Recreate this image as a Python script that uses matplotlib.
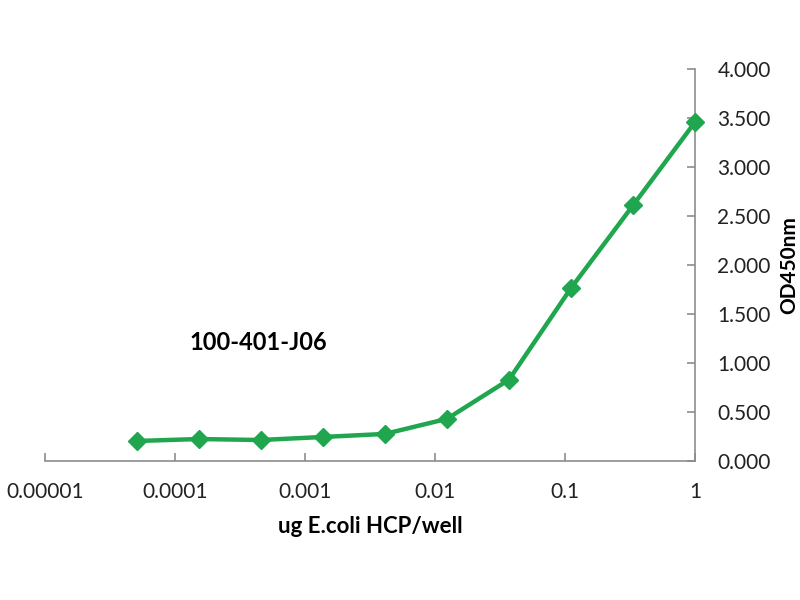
import matplotlib
matplotlib.use("Agg")
import matplotlib.pyplot as plt
from matplotlib.ticker import FixedLocator, FixedFormatter

plt.rcParams['font.family'] = ['Lato', 'DejaVu Sans']

conc = [1.0, 0.3333, 0.1111, 0.03704, 0.01235, 0.004115, 0.001372, 0.000457, 0.0001524, 0.0000508]
od = [3.46, 2.61, 1.765, 0.83, 0.43, 0.276, 0.245, 0.214, 0.224, 0.204]
xticks = [0.00001, 0.0001, 0.001, 0.01, 0.1, 1]
xticklabels = ["0.00001", "0.0001", "0.001", "0.01", "0.1", "1"]
yticks = [0, 0.5, 1.0, 1.5, 2.0, 2.5, 3.0, 3.5, 4.0]
yticklabels = ["0.000", "0.500", "1.000", "1.500", "2.000", "2.500", "3.000", "3.500", "4.000"]

fig = plt.figure(figsize=(8, 6), dpi=100)
ax = fig.add_axes([0.056, 0.2317, 0.813, 0.6533])
color = '#1FA64E'
ax.plot(conc, od, color=color, lw=3.2, marker='D', ms=9, mec=color, mfc=color, clip_on=False, zorder=3)
ax.set_xscale('log')
ax.set_xlim(0.00001, 1)
ax.set_ylim(0, 4)
ax.xaxis.set_major_locator(FixedLocator(xticks))
ax.xaxis.set_major_formatter(FixedFormatter(xticklabels))
ax.xaxis.set_minor_locator(FixedLocator([]))
ax.yaxis.tick_right()
ax.yaxis.set_label_position('right')
ax.set_yticks(yticks)
ax.set_yticklabels(yticklabels)

for s in ['top', 'left']:
    ax.spines[s].set_visible(False)
for s in ['bottom', 'right']:
    ax.spines[s].set_color('#8c8c8c')
    ax.spines[s].set_linewidth(1.2)
ax.tick_params(axis='x', direction='in', length=6, color='#8c8c8c', width=1.2, labelsize=15, pad=15, labelcolor='#222222')
ax.tick_params(axis='y', direction='in', length=6, color='#8c8c8c', width=1.2, labelsize=15, pad=16, labelcolor='#222222')

ax.set_xlabel('ug E.coli HCP/well', fontsize=16, fontweight='bold', labelpad=10)
ax.set_ylabel('OD450nm', fontsize=15, fontweight='bold', labelpad=6)
ax.text(0.223, 0.301, '100-401-J06', transform=ax.transAxes, fontsize=17, fontweight='bold', ha='left', va='center')

fig.savefig('out.png', dpi=100)
